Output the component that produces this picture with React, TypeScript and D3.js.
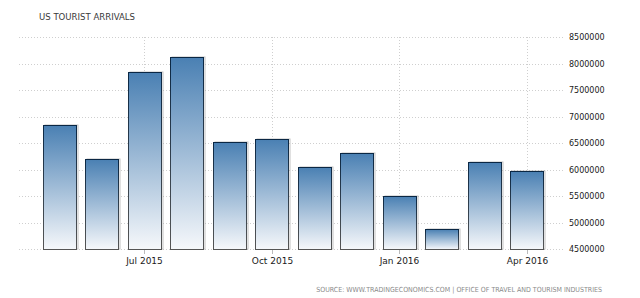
import React from "react";
import * as d3 from "d3";

const months = ["May 2015","Jun 2015","Jul 2015","Aug 2015","Sep 2015","Oct 2015","Nov 2015","Dec 2015","Jan 2016","Feb 2016","Mar 2016","Apr 2016"];
const arrivals = [6840000, 6190000, 7840000, 8130000, 6510000, 6580000, 6040000, 6310000, 5500000, 4870000, 6150000, 5980000];
const yTicks = [4500000, 5000000, 5500000, 6000000, 6500000, 7000000, 7500000, 8000000, 8500000];
const xTickMonths = ["Jul 2015", "Oct 2015", "Jan 2016", "Apr 2016"];
const title = "US TOURIST ARRIVALS";
const source = "SOURCE: WWW.TRADINGECONOMICS.COM | OFFICE OF TRAVEL AND TOURISM INDUSTRIES";

export default function App() {
  const W = 640, H = 298;
  const x = d3.scaleBand<string>().domain(months).range([38, 548]).paddingInner(0.22).paddingOuter(0.11);
  const y = d3.scaleLinear().domain([4500000, 8500000]).range([249, 37]);
  const grid = "#cfcfcf";
  const font = "'DejaVu Sans', Verdana, sans-serif";
  const cond = "'DejaVu Sans Condensed', 'DejaVu Sans', sans-serif";
  return (
    <svg width={W} height={H} style={{ position: "absolute", left: 0, top: 0, background: "#fff" }}>
      <defs>
        <linearGradient id="barGrad" x1="0" y1="0" x2="0" y2="1">
          <stop offset="0" stopColor="#4a80b3" />
          <stop offset="1" stopColor="#f6f8fb" />
        </linearGradient>
        <linearGradient id="strokeGrad" x1="0" y1="0" x2="0" y2="1">
          <stop offset="0" stopColor="#0a2744" />
          <stop offset="1" stopColor="#555" />
        </linearGradient>
      </defs>
      <text x={39} y={20} fontFamily={cond} fontSize={9.5} fill="#3a3a3a">{title}</text>
      {yTicks.map((t) => (
        <g key={t}>
          <line x1={19} x2={565} y1={Math.round(y(t)) + 0.5} y2={Math.round(y(t)) + 0.5} stroke={grid} strokeDasharray="1,2" />
          <text x={569} y={y(t) + 3} fontFamily={font} fontSize={8} fill="#1a1a1a">{t}</text>
        </g>
      ))}
      {xTickMonths.map((m) => {
        const cx = Math.round((x(m) as number) + x.bandwidth() / 2) + 0.5;
        return (
          <g key={m}>
            <line x1={cx} x2={cx} y1={37} y2={249} stroke={grid} strokeDasharray="1,2" />
            <line x1={cx} x2={cx} y1={249} y2={254} stroke="#bbb" />
            <text x={cx} y={264} textAnchor="middle" fontFamily={font} fontSize={9} fill="#1a1a1a">{m}</text>
          </g>
        );
      })}
      {months.map((m, i) => {
        const bx = Math.round(x(m) as number) + 0.5;
        const by = Math.round(y(arrivals[i])) + 0.5;
        const bw = Math.round(x.bandwidth());
        const bh = 249 - by + 0.5;
        return (
          <g key={m}>
            <rect x={bx + 1.5} y={by - 0.5} width={bw} height={bh} fill="none" stroke="#999" strokeOpacity={0.6} strokeWidth={1} />
            <rect x={bx} y={by} width={bw} height={bh} fill="url(#barGrad)" stroke="url(#strokeGrad)" strokeWidth={1} />
          </g>
        );
      })}
      <text x={602} y={292} textAnchor="end" fontFamily={cond} fontSize={7} fill="#8a8a8a">{source}</text>
    </svg>
  );
}
